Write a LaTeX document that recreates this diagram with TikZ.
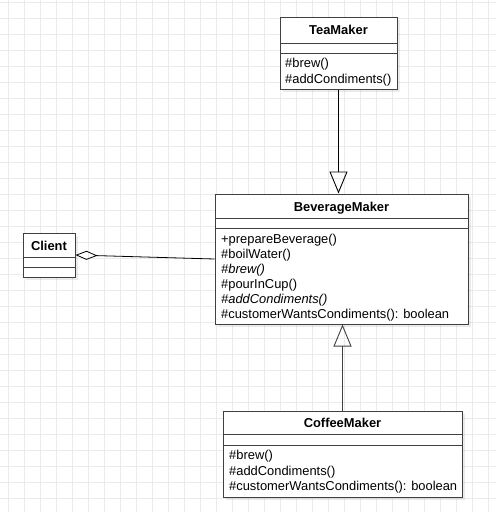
\documentclass[tikz,border=0pt]{standalone}
\usepackage{fontspec}
\setmainfont{Liberation Sans}
\usetikzlibrary{arrows.meta,shadows}
\definecolor{gridcol}{rgb}{0.92,0.92,0.92}
\definecolor{linecol}{rgb}{0.25,0.25,0.25}
\def\umlfont{\fontsize{12.9}{15}\selectfont}
\tikzset{
  umlclass/.style={draw=linecol,line width=1pt,fill=white,rectangle,inner sep=0pt,
    drop shadow={shadow xshift=3pt,shadow yshift=-3pt,fill=black,opacity=0.08}},
  umltitle/.style={font=\umlfont\bfseries,anchor=base,inner sep=0pt},
  umlop/.style={font=\umlfont,anchor=base west,inner sep=0pt},
  umlabs/.style={font=\umlfont\itshape,anchor=base west,inner sep=0pt},
  umlsep/.style={draw=linecol,line width=1pt},
  inherit/.style={-{Triangle[open,length=22pt,width=18pt]},line width=0.9pt},
  aggregate/.style={{Diamond[open,length=22pt,width=9pt]}-,line width=0.8pt}
}
\begin{document}
\begin{tikzpicture}[x=1pt,y=-1pt]
      \useasboundingbox (0,0) rectangle (496,512);
      %% background grid
      \foreach \gx in {8,24,...,488}
        \draw [gridcol,line width=1pt] (\gx,0) -- (\gx,512);
      \foreach \gy in {2,18,...,498}
        \draw [gridcol,line width=1pt] (0,\gy) -- (496,\gy);
      %% classes
      \node (tea) at (338.5,53) [umlclass,minimum width=117pt,minimum height=72pt] {};
      \node (bev) at (341.5,259) [umlclass,minimum width=253pt,minimum height=130pt] {};
      \node (client) at (49,255) [umlclass,minimum width=52pt,minimum height=44pt] {};
      \node (cof) at (342.5,454) [umlclass,minimum width=239pt,minimum height=86pt] {};
      \draw [umlsep] (tea.west |- 0,43) -- (tea.east |- 0,43);
      \draw [umlsep] (tea.west |- 0,53) -- (tea.east |- 0,53);
      \draw [umlsep] (bev.west |- 0,218) -- (bev.east |- 0,218);
      \draw [umlsep] (bev.west |- 0,228) -- (bev.east |- 0,228);
      \draw [umlsep] (client.west |- 0,257) -- (client.east |- 0,257);
      \draw [umlsep] (client.west |- 0,267) -- (client.east |- 0,267);
      \draw [umlsep] (cof.west |- 0,434) -- (cof.east |- 0,434);
      \draw [umlsep] (cof.west |- 0,445) -- (cof.east |- 0,445);
      %% names
      \node (teaname) at (338.5,34.5) [umltitle] {TeaMaker};
      \node (bevname) at (341.5,211.5) [umltitle] {BeverageMaker};
      \node (clientname) at (49,250.5) [umltitle] {Client};
      \node (cofname) at (342.5,427.5) [umltitle] {CoffeeMaker};
      %% operations
      \node (teabrew) at (285,67) [umlop] {\#brew()};
      \node (teacond) at (285,83) [umlop] {\#addCondiments()};
      \node (bevprep) at (221,243) [umlop] {+prepareBeverage()};
      \node (bevboil) at (221,258) [umlop] {\#boilWater()};
      \node (bevbrew) at (221,273) [umlabs] {\#brew()};
      \node (bevpour) at (221,288) [umlop] {\#pourInCup()};
      \node (bevcond) at (221,303) [umlabs] {\#addCondiments()};
      \node (bevwants) at (221,318) [umlop] {\#customerWantsCondiments(): boolean};
      \node (cofbrew) at (229,459) [umlop] {\#brew()};
      \node (cofcond) at (229,475) [umlop] {\#addCondiments()};
      \node (cofwants) at (229,490) [umlop] {\#customerWantsCondiments(): boolean};
      %% relations
      \draw [inherit] (tea.south) -- (tea.south |- bev.north);
      \draw [inherit,linecol] (cof.north) -- (cof.north |- bev.south);
      \draw [aggregate] (client.east) -- (bev.west);
    \end{tikzpicture}
\end{document}
